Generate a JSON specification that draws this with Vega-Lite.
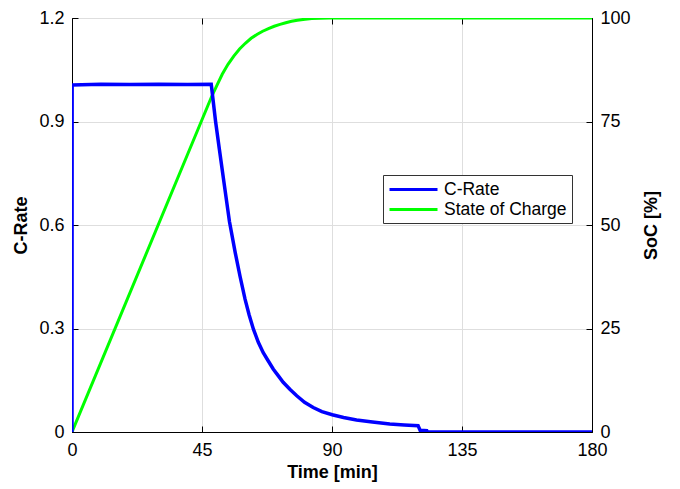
{
  "$schema": "https://vega.github.io/schema/vega-lite/v6.json",
  "width": 520,
  "height": 414,
  "autosize": {"type": "none"},
  "padding": {"left": 72, "top": 18, "right": 88, "bottom": 57},
  "background": "white",
  "config": {
    "font": "Liberation Sans",
    "view": {"stroke": "black", "strokeWidth": 1},
    "axis": {
      "labelFont": "Liberation Sans",
      "titleFont": "Liberation Sans",
      "labelFontSize": 18,
      "titleFontSize": 18,
      "titleFontWeight": "bold",
      "labelColor": "black",
      "titleColor": "black",
      "domainColor": "black",
      "tickColor": "black",
      "tickWidth": 1,
      "gridColor": "#dedede",
      "tickSize": -6,
      "labelPadding": 14,
      "labelFlush": false
    },
    "legend": {"labelFont": "Liberation Sans"}
  },
  "datasets": {
    "crate": [
      {"t": 0, "v": 0},
      {"t": 0.05, "v": 1.006},
      {"t": 10, "v": 1.008},
      {"t": 20, "v": 1.007},
      {"t": 30, "v": 1.008},
      {"t": 40, "v": 1.007},
      {"t": 48.2, "v": 1.008},
      {"t": 49.7, "v": 0.9},
      {"t": 51, "v": 0.82},
      {"t": 52.5, "v": 0.73},
      {"t": 54.5, "v": 0.61},
      {"t": 56.5, "v": 0.52},
      {"t": 58.2, "v": 0.45},
      {"t": 59.9, "v": 0.385},
      {"t": 61.3, "v": 0.34},
      {"t": 62.8, "v": 0.298},
      {"t": 64.5, "v": 0.26},
      {"t": 66.2, "v": 0.23},
      {"t": 68, "v": 0.205},
      {"t": 69.7, "v": 0.182},
      {"t": 71.5, "v": 0.162},
      {"t": 73.1, "v": 0.144},
      {"t": 75.5, "v": 0.123},
      {"t": 77.8, "v": 0.105},
      {"t": 80.5, "v": 0.086},
      {"t": 83.5, "v": 0.071},
      {"t": 86.5, "v": 0.059},
      {"t": 90.1, "v": 0.05},
      {"t": 94, "v": 0.042},
      {"t": 98.5, "v": 0.035},
      {"t": 104, "v": 0.029},
      {"t": 110, "v": 0.023},
      {"t": 115, "v": 0.02},
      {"t": 119.8, "v": 0.018},
      {"t": 120.5, "v": 0.005},
      {"t": 122.8, "v": 0.004},
      {"t": 123, "v": 0},
      {"t": 180, "v": 0}
    ],
    "soc": [
      {"t": 0, "v": 0},
      {"t": 48.2, "v": 80.8},
      {"t": 50, "v": 83.5},
      {"t": 52, "v": 86.4},
      {"t": 54, "v": 88.8},
      {"t": 56, "v": 90.8},
      {"t": 58, "v": 92.5},
      {"t": 60, "v": 93.9},
      {"t": 62, "v": 95.1},
      {"t": 64, "v": 96.0},
      {"t": 66, "v": 96.8},
      {"t": 68, "v": 97.45},
      {"t": 70, "v": 98.0},
      {"t": 72, "v": 98.45},
      {"t": 74, "v": 98.85},
      {"t": 76, "v": 99.2},
      {"t": 78, "v": 99.45},
      {"t": 80, "v": 99.65},
      {"t": 83, "v": 99.85},
      {"t": 86, "v": 99.96},
      {"t": 89, "v": 100},
      {"t": 180, "v": 100}
    ]
  },
  "layer": [
    {
      "data": {"name": "soc"},
      "mark": {"type": "line", "strokeWidth": 3, "clip": true},
      "encoding": {
        "x": {
          "field": "t", "type": "quantitative",
          "scale": {"domain": [0, 180], "nice": false},
          "axis": {"orient": "bottom", "title": "Time [min]", "values": [0, 45, 90, 135, 180], "grid": true, "labelPadding": 15, "titlePadding": 4}
        },
        "y": {
          "field": "v", "type": "quantitative",
          "scale": {"domain": [0, 100], "nice": false},
          "axis": {"orient": "right", "title": "SoC [%]", "titleAngle": 270, "values": [0, 25, 50, 75, 100], "grid": false, "titlePadding": 30}
        },
        "color": {
          "datum": "State of Charge",
          "type": "nominal",
          "scale": {"domain": ["C-Rate", "State of Charge"], "range": ["#0000ff", "#00ff00"]},
          "legend": {
            "orient": "none",
            "legendX": 311,
            "legendY": 157,
            "title": null,
            "fillColor": "white",
            "strokeColor": "#333333",
            "padding": 5,
            "symbolType": "M-1,0H5",
            "symbolSize": 256,
            "symbolStrokeWidth": 3,
            "labelFontSize": 17.5,
            "labelColor": "black",
            "labelOffset": 37,
            "rowPadding": 2
          }
        }
      }
    },
    {
      "data": {"name": "crate"},
      "mark": {"type": "line", "strokeWidth": 3.5, "clip": true},
      "encoding": {
        "x": {
          "field": "t", "type": "quantitative",
          "axis": {"orient": "top", "title": null, "labels": false, "values": [0, 45, 90, 135, 180], "grid": false, "domain": false}
        },
        "y": {
          "field": "v", "type": "quantitative",
          "scale": {"domain": [0, 1.2], "nice": false},
          "axis": {"orient": "left", "title": "C-Rate", "values": [0, 0.3, 0.6, 0.9, 1.2], "labelExpr": "datum.value == 0 ? '0' : format(datum.value, '.1f')", "grid": true, "titlePadding": 8}
        },
        "color": {"datum": "C-Rate", "type": "nominal"}
      }
    }
  ],
  "resolve": {"scale": {"y": "independent"}, "axis": {"x": "independent"}}
}
